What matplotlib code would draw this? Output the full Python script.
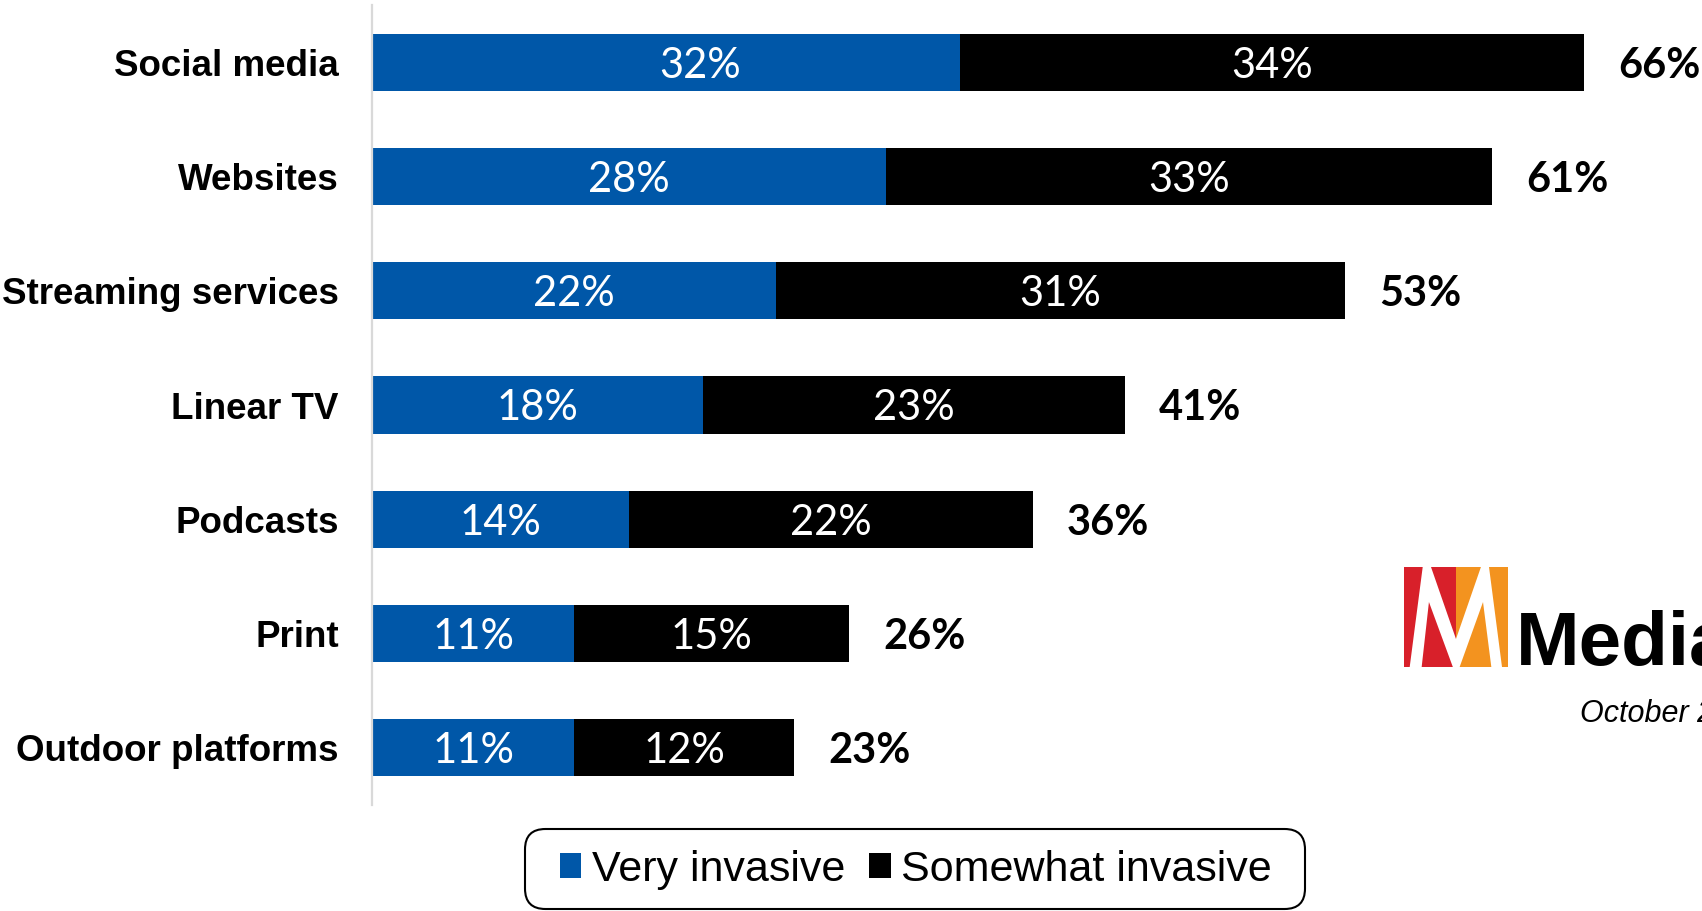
import matplotlib
matplotlib.use("Agg")
import matplotlib.pyplot as plt
from matplotlib.patches import Polygon, FancyBboxPatch
from matplotlib.transforms import ScaledTranslation
import numpy as np

# Share of respondents rating ads on each channel as invasive (%)
channels = ["Social media", "Websites", "Streaming services", "Linear TV",
            "Podcasts", "Print", "Outdoor platforms"]
very_invasive = [32, 28, 22, 18, 14, 11, 11]
somewhat_invasive = [34, 33, 31, 23, 22, 15, 12]
totals = [66, 61, 53, 41, 36, 26, 23]

BLUE = "#0057a8"
BLACK = "#000000"

W, H = 1702, 911
fig = plt.figure(figsize=(W / 100, H / 100), dpi=100)
ax = fig.add_axes([0.2186, 0.1164, 0.7767, 0.878])

y = np.arange(len(channels))
h = 0.5
very = np.array(very_invasive)
some = np.array(somewhat_invasive)

b1 = ax.barh(y, very, height=h, color=BLUE, label="Very invasive")
b2 = ax.barh(y, some, left=very, height=h, color=BLACK, label="Somewhat invasive")

# segment labels; the top blue one sits a little right of centre
nudge = {0: 1.85}
for i in range(len(channels)):
    ax.text(very[i] / 2 + nudge.get(i, 0), y[i] + 0.03, f"{very[i]}%",
            ha="center", va="center", color="white", fontsize=30, family="Lato")
    ax.text(very[i] + some[i] / 2, y[i] + 0.03, f"{some[i]}%",
            ha="center", va="center", color="white", fontsize=30, family="Lato")
    ax.text(totals[i] + 1.85, y[i] + 0.03, f"{totals[i]}%", ha="left", va="center",
            color="black", fontsize=30, family="Lato", fontweight="bold")

ax.set_xlim(0, 72)
ax.set_ylim(len(channels) - 0.5, -0.5)
ax.set_yticks(y)
ax.set_yticklabels(channels, fontsize=26.5, family="Liberation Sans", fontweight="bold")
lift = ScaledTranslation(0, 0.03, fig.dpi_scale_trans)
for lbl in ax.get_yticklabels():
    lbl.set_transform(lbl.get_transform() + lift)
ax.tick_params(axis="y", length=0, pad=24)
ax.set_xticks([])
for s in ("top", "right", "bottom"):
    ax.spines[s].set_visible(False)
ax.spines["left"].set_color("#d9d9d9")
ax.spines["left"].set_linewidth(1.6)

# legend without its own frame, boxed by a rounded rectangle
leg = fig.legend(handles=[b1, b2], loc="center", bbox_to_anchor=(916 / W, 1 - 870 / H),
                 ncol=2, frameon=False,
                 prop={"family": "Liberation Sans", "size": 31},
                 handlelength=0.5, handleheight=0.5, handletextpad=0.25,
                 columnspacing=0.55, borderpad=0, borderaxespad=0)
box = FancyBboxPatch((525 / W, 1 - 909 / H), 780 / W, 80 / H,
                     boxstyle="round,pad=0,rounding_size=0.012",
                     transform=fig.transFigure, facecolor="none",
                     edgecolor="black", linewidth=1.5, mutation_aspect=W / H)
fig.patches.append(box)

# logo block
lax = fig.add_axes([0.8249, 0.2678, 0.0611, 0.1098])
lax.set_xlim(0, 1)
lax.set_ylim(1, 0)
lax.axis("off")
RED = "#d8202a"
ORANGE = "#f3931f"
shapes = [
    ([(0, 0), (0.18, 0), (0.055, 1), (0, 1)], RED),
    ([(0.24, 0.35), (0.17, 1), (0.47, 1)], RED),
    ([(0.26, 0), (0.50, 0), (0.50, 0.72)], RED),
    ([(0.50, 0), (0.74, 0), (0.50, 0.72)], ORANGE),
    ([(0.76, 0.35), (0.535, 1), (0.84, 1)], ORANGE),
    ([(0.82, 0), (1, 0), (1, 1), (0.945, 1)], ORANGE),
]
for pts, c in shapes:
    lax.add_patch(Polygon(pts, closed=True, facecolor=c, edgecolor="none"))

fig.text(1516 / W, 1 - 665 / H, "Media", fontsize=55, family="Liberation Sans",
         fontweight="bold", va="baseline", ha="left")
fig.text(1580 / W, 1 - 722 / H, "October 2023", fontsize=22, family="Liberation Sans",
         style="italic", va="baseline", ha="left")

fig.savefig("out.png", dpi=100, facecolor="white")
